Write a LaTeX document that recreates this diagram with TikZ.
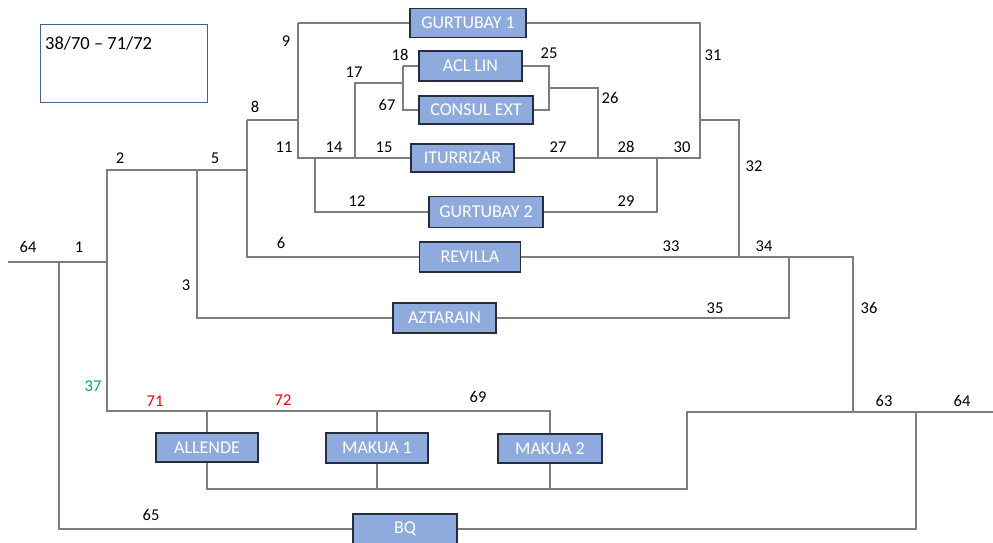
\documentclass[tikz,border=0pt]{standalone}
\usepackage{fontspec}
\setmainfont{Carlito}
\usepackage{tikz}
\definecolor{boxFill}{RGB}{143, 170, 220}
\definecolor{boxEdge}{RGB}{38, 46, 62}
\definecolor{pipeGray}{RGB}{125, 125, 125}
\definecolor{legendBlue}{RGB}{68, 98, 150}
\definecolor{numGreen}{RGB}{0, 176, 80}
\definecolor{numRed}{RGB}{255, 0, 0}

\tikzset{
  unit/.style={draw=boxEdge, line width=1.4pt, fill=boxFill, text=white, inner sep=0pt,
    minimum height=29pt, font=\fontsize{18}{21}\selectfont},
  pipe/.style={draw=pipeGray, line width=1.3pt},
  num/.style={inner sep=0pt, font=\fontsize{16.5}{19}\selectfont}
}

\begin{document}
\begin{tikzpicture}[x=1pt, y=-1pt]
        \useasboundingbox (0,0) rectangle (993,542);
        % legend
        \node[draw=legendBlue, line width=0.8pt, minimum width=167pt, minimum height=78pt, inner sep=0pt] (legend) at (123.5,63) {};
        \node[inner sep=0pt, anchor=west, font=\fontsize{18.5}{22}\selectfont] (legendtxt) at (45,43) {38/70 -- 71/72};
        % units
        \node[unit, minimum width=116pt] (gurtubay1) at (468,23) {GURTUBAY 1};
        \node[unit, minimum width=103pt, minimum height=30pt] (acllin) at (470.5,66) {ACL LIN};
        \node[unit, minimum width=114pt, minimum height=28pt] (consul) at (476,110) {CONSUL EXT};
        \node[unit, minimum width=103pt, minimum height=28pt] (iturrizar) at (462.5,158) {ITURRIZAR};
        \node[unit, minimum width=114pt, minimum height=31pt] (gurtubay2) at (486,212) {GURTUBAY 2};
        \node[unit, minimum width=101pt, minimum height=30pt] (revilla) at (470,257) {REVILLA};
        \node[unit, minimum width=103pt, minimum height=30pt] (aztarain) at (444.5,318) {AZTARAIN};
        \node[unit, minimum width=102pt] (allende) at (207,447.5) {ALLENDE};
        \node[unit, minimum width=102pt, minimum height=30pt] (makua1) at (377,448) {MAKUA 1};
        \node[unit, minimum width=104pt] (makua2) at (550,448.5) {MAKUA 2};
        \node[unit, minimum width=104pt, minimum height=30pt] (bq) at (405,529) {BQ};
        % junctions
        \coordinate (inlet) at (8,262);
        \coordinate (j1) at (59,262);
        \coordinate (j2) at (107,262);
        \coordinate (j2top) at (107,170);
        \coordinate (j37) at (107,411);
        \coordinate (j5) at (197,170);
        \coordinate (j3) at (197,318);
        \coordinate (j8) at (247,170);
        \coordinate (j8top) at (247,120);
        \coordinate (j6) at (247,257);
        \coordinate (j11) at (298,120);
        \coordinate (j9) at (298,23);
        \coordinate (j11bot) at (298,158);
        \coordinate (j14) at (315,158);
        \coordinate (j12) at (315,212);
        \coordinate (j15) at (355,158);
        \coordinate (j17) at (355,83);
        \coordinate (j18) at (403,83);
        \coordinate (j18top) at (403,66);
        \coordinate (j67) at (403,110);
        \coordinate (j25) at (549,66);
        \coordinate (j25bot) at (549,110);
        \coordinate (j26) at (549,88);
        \coordinate (j27) at (598,88);
        \coordinate (j27bot) at (598,158);
        \coordinate (j29) at (657,212);
        \coordinate (j28) at (657,158);
        \coordinate (j31) at (700,23);
        \coordinate (j30) at (700,158);
        \coordinate (j32) at (700,120);
        \coordinate (j32r) at (739,120);
        \coordinate (j33) at (739,257);
        \coordinate (j34) at (789,257);
        \coordinate (j35) at (789,318);
        \coordinate (j36) at (853,257);
        \coordinate (j63) at (853,412);
        \coordinate (j69) at (550,411);
        \coordinate (jbot) at (687,489);
        \coordinate (jbotup) at (687,412);
        \coordinate (j64) at (916,412);
        \coordinate (j65) at (916,529);
        \coordinate (j65l) at (59,529);
        \coordinate (outlet) at (993,412);
        % pipes
        \draw[pipe] (inlet) -- (j2) -- (j2top) -- (j8);
        \draw[pipe] (j2) -- (j37) -- (j69) -- (makua2.north);
        \draw[pipe] (allende.north |- j37) -- (allende.north);
        \draw[pipe] (makua1.north |- j37) -- (makua1.north);
        \draw[pipe] (allende.south) -- (allende.south |- jbot) -- (jbot) -- (jbotup) -- (outlet);
        \draw[pipe] (makua1.south) -- (makua1.south |- jbot);
        \draw[pipe] (makua2.south) -- (makua2.south |- jbot);
        \draw[pipe] (j1) -- (j65l) -- (bq.west);
        \draw[pipe] (bq.east) -- (j65) -- (j64);
        \draw[pipe] (j5) -- (j3) -- (aztarain.west);
        \draw[pipe] (j8top) -- (j6) -- (revilla.west);
        \draw[pipe] (j8top) -- (j11);
        \draw[pipe] (j9) -- (j11bot) -- (iturrizar.west);
        \draw[pipe] (j9) -- (gurtubay1.west);
        \draw[pipe] (gurtubay1.east) -- (j31) -- (j30) -- (iturrizar.east);
        \draw[pipe] (j14) -- (j12) -- (gurtubay2.west);
        \draw[pipe] (gurtubay2.east) -- (j29) -- (j28);
        \draw[pipe] (j15) -- (j17) -- (j18);
        \draw[pipe] (j18top) -- (j67) -- (consul.west);
        \draw[pipe] (j18top) -- (acllin.west);
        \draw[pipe] (acllin.east) -- (j25) -- (j25bot) -- (consul.east);
        \draw[pipe] (j26) -- (j27) -- (j27bot);
        \draw[pipe] (j32) -- (j32r) -- (j33);
        \draw[pipe] (revilla.east) -- (j36) -- (j63);
        \draw[pipe] (j34) -- (j35) -- (aztarain.east);
        % numbers
        \node[num] (n64a) at (28,247) {64};
        \node[num] (n1) at (79,247) {1};
        \node[num] (n2) at (120,158) {2};
        \node[num] (n5) at (215,158) {5};
        \node[num] (n8) at (255,107) {8};
        \node[num] (n9) at (286,41) {9};
        \node[num] (n11) at (284,147) {11};
        \node[num] (n14) at (334,147) {14};
        \node[num] (n15) at (384,147) {15};
        \node[num] (n17) at (354,72) {17};
        \node[num] (n18) at (400,55) {18};
        \node[num] (n67) at (387,105) {67};
        \node[num] (n25) at (549,53) {25};
        \node[num] (n26) at (610,98) {26};
        \node[num] (n27) at (558,147) {27};
        \node[num] (n28) at (626,147) {28};
        \node[num] (n30) at (682,147) {30};
        \node[num] (n31) at (713,55) {31};
        \node[num] (n32) at (754,166) {32};
        \node[num] (n12) at (357,201) {12};
        \node[num] (n29) at (626,201) {29};
        \node[num] (n6) at (281,243) {6};
        \node[num] (n3) at (186,285) {3};
        \node[num] (n33) at (671,246) {33};
        \node[num] (n34) at (764,246) {34};
        \node[num] (n35) at (715,308) {35};
        \node[num] (n36) at (869,308) {36};
        \node[num, text=numGreen] (n37) at (93,386) {37};
        \node[num, text=numRed] (n71) at (155,401) {71};
        \node[num, text=numRed] (n72) at (283,400) {72};
        \node[num] (n69) at (478,397) {69};
        \node[num] (n63) at (884,401) {63};
        \node[num] (n64b) at (962,401) {64};
        \node[num] (n65) at (151,515) {65};
      \end{tikzpicture}
\end{document}
